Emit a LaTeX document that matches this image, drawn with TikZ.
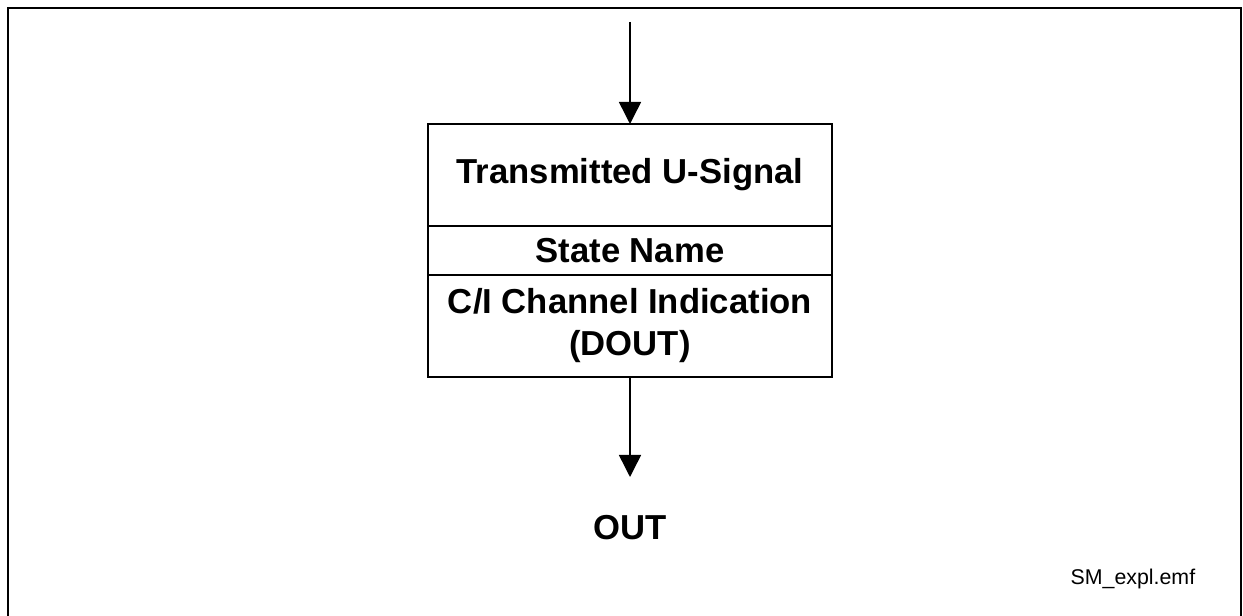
\documentclass[tikz,border=0pt]{standalone}
\usepackage{fontspec}
\setmainfont{Liberation Sans}
\usepackage{tikz}
\usetikzlibrary{arrows.meta, positioning}
\tikzset{
  field/.style={draw, line width=1.5pt, minimum width=303pt, inner sep=0pt, outer sep=0pt, align=center,
    font=\fontsize{26}{31.5}\selectfont\bfseries},
  flow/.style={-{Triangle[width=16.5pt,length=16.5pt]}, line width=1.1pt}
}

\begin{document}
\begin{tikzpicture}[x=0.75pt, y=-0.75pt, node distance=0pt]
\useasboundingbox (0,0) rectangle (1243,616);
\draw[line width=1.5pt] (8,616) -- (8,8) -- (1241,8) -- (1241,616);
\node[field, minimum height=76.5pt] (usig) at (630,175) {Transmitted U-Signal};
\node[field, minimum height=36.75pt, below=of usig] (sname) {State Name};
\node[field, minimum height=76.5pt, below=of sname] (cidout) {C/I Channel Indication\\(DOUT)};
\coordinate (in) at (630,22);
\coordinate (outtip) at (630,477);
\node[anchor=base, font=\fontsize{26}{30}\selectfont\bfseries] (out) at (630,540) {OUT};
\node[anchor=base west, font=\fontsize{16}{19}\selectfont] (fname) at (1066,585) {SM\_expl.emf};
\draw[flow] (in) -- (usig.north);
\draw[flow] (cidout.south) -- (outtip);
\end{tikzpicture}
\end{document}
